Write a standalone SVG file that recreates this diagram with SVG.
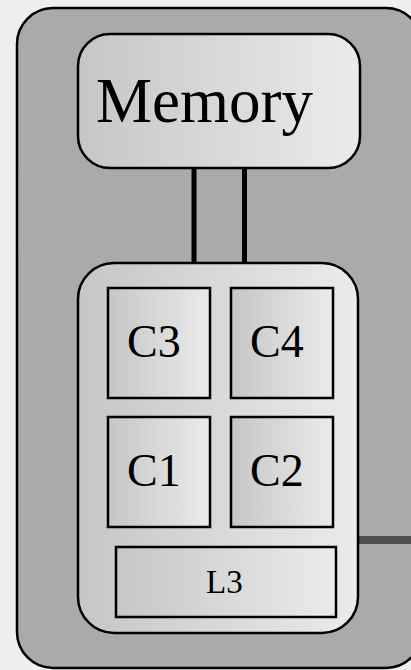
<svg xmlns="http://www.w3.org/2000/svg" width="411" height="670" viewBox="0 0 411 670">
  <defs>
    <linearGradient id="shade" x1="0" y1="0" x2="1" y2="0">
      <stop offset="0" stop-color="#c6c6c6"/>
      <stop offset="1" stop-color="#ebebeb"/>
    </linearGradient>
    <style>
      .frame { fill: #aaaaaa; stroke: #000; stroke-width: 2.5; }
      .box { fill: url(#shade); stroke: #000; stroke-width: 2.5; }
      .cell { fill: url(#shade); stroke: #000; stroke-width: 2.5; }
      .lbl { font-family: "Liberation Serif", "Times New Roman", serif; fill: #000; }
      .bus { stroke: #000; stroke-width: 5; fill: none; }
      .link { stroke: #4d4d4d; stroke-width: 8; fill: none; }
    </style>
  </defs>

  <!-- page -->
  <rect x="0" y="0" width="411" height="670" fill="#efefef"/>

  <!-- system frame -->
  <g id="system">
    <rect class="frame" x="17" y="8" width="405" height="660" rx="36" ry="36"/>
  </g>

  <!-- connectors -->
  <g id="connectors">
    <line class="bus" x1="194" y1="167" x2="194" y2="264"/>
    <line class="bus" x1="244.5" y1="167" x2="244.5" y2="264"/>
    <line class="link" x1="358" y1="540" x2="411" y2="540"/>
  </g>

  <!-- memory -->
  <g id="memory">
    <rect class="box" x="78" y="34" width="282" height="134" rx="32" ry="32"/>
    <text class="lbl" x="96" y="122" font-size="63">Memory</text>
  </g>

  <!-- processor package -->
  <g id="cpu">
    <rect class="box" x="78" y="263" width="280" height="370" rx="36" ry="36"/>
  </g>

  <g id="c3">
    <rect class="cell" x="108" y="288" width="102" height="110"/>
    <text class="lbl" x="127" y="357" font-size="46">C3</text>
  </g>
  <g id="c4">
    <rect class="cell" x="231" y="288" width="102" height="110"/>
    <text class="lbl" x="250" y="357" font-size="46">C4</text>
  </g>
  <g id="c1">
    <rect class="cell" x="108" y="417" width="102" height="110"/>
    <text class="lbl" x="127" y="486" font-size="46">C1</text>
  </g>
  <g id="c2">
    <rect class="cell" x="231" y="417" width="102" height="110"/>
    <text class="lbl" x="250" y="486" font-size="46">C2</text>
  </g>
  <g id="l3">
    <rect class="cell" x="116" y="547" width="220" height="70"/>
    <text class="lbl" x="206" y="593" font-size="33">L3</text>
  </g>
</svg>
